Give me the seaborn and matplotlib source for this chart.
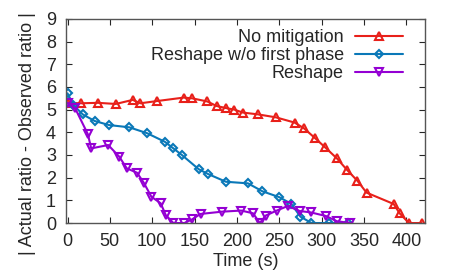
import matplotlib
matplotlib.use("Agg")
import matplotlib.pyplot as plt
import seaborn as sns

# No mitigation
nomit_t = [0, 16, 36, 57, 77, 86, 106, 137, 147, 165, 176, 187, 197, 207, 225, 246,
           268, 279, 292, 304, 318, 330, 342, 353, 385, 392, 403, 418]
nomit_v = [5.3, 5.28, 5.3, 5.25, 5.43, 5.28, 5.38, 5.53, 5.5, 5.36, 5.16, 5.07, 5.0, 4.87,
           4.79, 4.66, 4.43, 4.18, 3.75, 3.34, 2.85, 2.34, 1.87, 1.34, 0.84, 0.43, 0, 0]

# Reshape w/o first phase
nofirst_t = [0, 7, 18, 32, 49, 73, 94, 115, 125, 135, 155, 166, 187, 213, 230, 250,
             264, 275, 288, 309, 331]
nofirst_v = [5.72, 5.2, 4.79, 4.5, 4.32, 4.22, 3.96, 3.58, 3.29, 3.0, 2.37, 2.16, 1.82,
             1.75, 1.4, 1.14, 0.85, 0.28, 0, 0, 0]

# Reshape
reshape_t = [0, 9, 24, 28, 48, 61, 70, 82, 90, 99, 110, 116, 125, 138, 147, 157, 182,
             205, 219, 227, 234, 247, 260, 274, 287, 305, 318, 334]
reshape_v = [5.3, 5.06, 3.92, 3.29, 3.44, 2.93, 2.41, 2.22, 1.78, 1.16, 0.87, 0.35, 0, 0,
             0.16, 0.4, 0.5, 0.55, 0.43, 0, 0.33, 0.55, 0.75, 0.53, 0.47, 0.31, 0.08, 0]

sns.set_style("ticks")
plt.rcParams["font.family"] = ["Liberation Sans", "DejaVu Sans"]

fig, ax = plt.subplots(figsize=(4.57, 2.74), dpi=100)
fig.subplots_adjust(left=0.144, right=0.930, top=0.931, bottom=0.186)

style = dict(linewidth=1.5, markersize=5.5, markerfacecolor="none", markeredgewidth=1.5)
sns.lineplot(x=nomit_t, y=nomit_v, color="#e8201a", marker="^", label="No mitigation",
             sort=False, ax=ax, markeredgecolor="#e8201a", **style)
sns.lineplot(x=nofirst_t, y=nofirst_v, color="#0a78b8", marker="D", label="Reshape w/o first phase",
             sort=False, ax=ax, markeredgecolor="#0a78b8", **dict(style, markersize=4))
sns.lineplot(x=reshape_t, y=reshape_v, color="#9400d3", marker="v", label="Reshape",
             sort=False, ax=ax, markeredgecolor="#9400d3", **style)

ax.set_xlim(-2, 422)
ax.set_ylim(0, 9)
ax.set_xticks(range(0, 401, 50))
ax.set_yticks(range(0, 10))
ax.tick_params(direction="in", top=True, right=True, length=4, labelsize=13, pad=7)
for s in ax.spines.values():
    s.set_color("#555555")
    s.set_linewidth(1)

ax.set_xlabel("Time (s)", fontsize=13)
ax.set_ylabel("| Actual ratio - Observed ratio |", fontsize=13)
ax.xaxis.set_label_coords(0.5, -0.19, transform=ax.transAxes)
ax.yaxis.set_label_coords(-0.106, 0.436, transform=ax.transAxes)
ax.xaxis.label.set_va("center")
ax.yaxis.label.set_va("center")

leg = ax.legend(loc="upper right", frameon=False, markerfirst=False, fontsize=13,
                handlelength=2.7, handletextpad=0.6, labelspacing=0.05, borderaxespad=0.0,
                bbox_to_anchor=(0.96, 0.985))
for t in leg.get_texts():
    t.set_ha("right")
leg._legend_box.align = "right"

fig.savefig("out.png", dpi=100)
